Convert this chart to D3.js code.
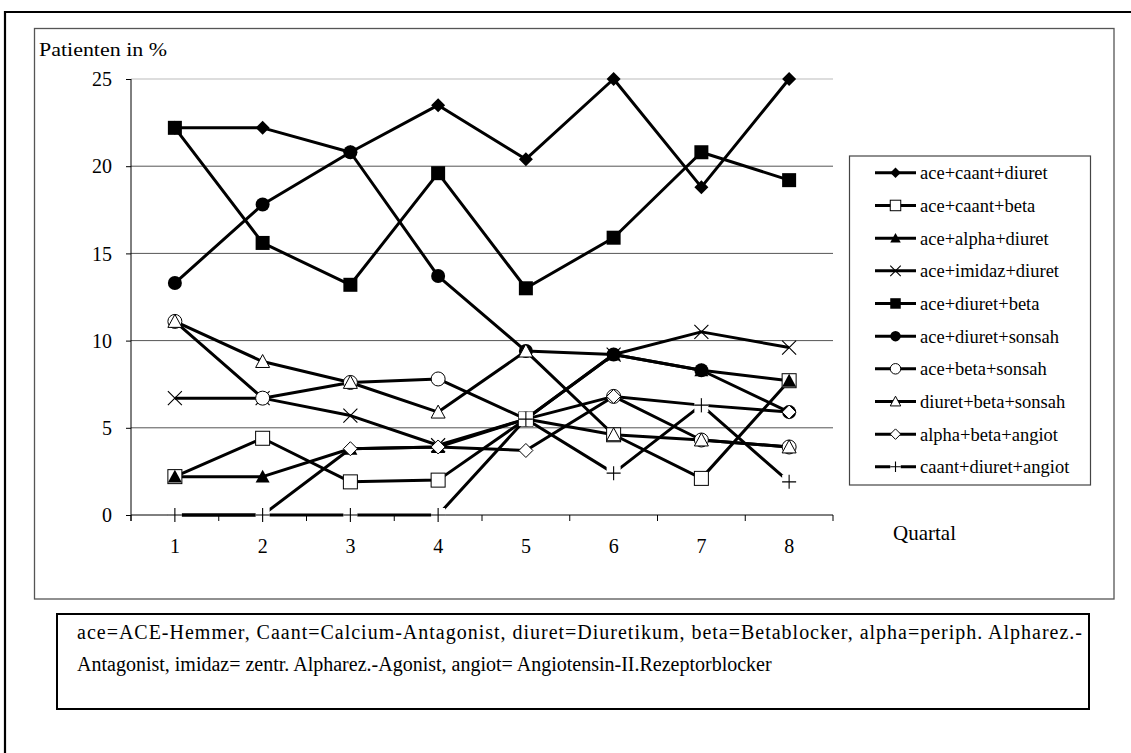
<!DOCTYPE html>
<html>
<head>
<meta charset="utf-8">
<script src="https://cdn.jsdelivr.net/npm/d3@7"></script>
<style>
  html, body { margin: 0; padding: 0; background: #fff; }
  svg { display: block; }
  text { font-family: "Liberation Serif", "Times New Roman", serif; fill: #000; }
</style>
</head>
<body>
<svg id="chart" width="1131" height="753"></svg>
<script>
// ---------- data ----------
const quarters = ["1", "2", "3", "4", "5", "6", "7", "8"];
const yTicks = [0, 5, 10, 15, 20, 25];
const seriesNames = [
  "ace+caant+diuret", "ace+caant+beta", "ace+alpha+diuret", "ace+imidaz+diuret",
  "ace+diuret+beta", "ace+diuret+sonsah", "ace+beta+sonsah", "diuret+beta+sonsah",
  "alpha+beta+angiot", "caant+diuret+angiot"
];
const aceCaantDiuret   = [22.2, 22.2, 20.8, 23.5, 20.4, 25.0, 18.8, 25.0];
const aceCaantBeta     = [2.2, 4.4, 1.9, 2.0, 5.5, 4.6, 2.1, 7.7];
const aceAlphaDiuret   = [2.2, 2.2, 3.8, 3.9, 5.5, 9.2, 8.3, 7.7];
const aceImidazDiuret  = [6.7, 6.7, 5.7, 4.0, 5.5, 9.2, 10.5, 9.6];
const aceDiuretBeta    = [22.2, 15.6, 13.2, 19.6, 13.0, 15.9, 20.8, 19.2];
const aceDiuretSonsah  = [13.3, 17.8, 20.8, 13.7, 9.4, 9.2, 8.3, 5.9];
const aceBetaSonsah    = [11.1, 6.7, 7.6, 7.8, 5.5, 6.8, 4.3, 3.9];
const diuretBetaSonsah = [11.1, 8.8, 7.6, 5.9, 9.4, 4.6, 4.3, 3.9];
const alphaBetaAngiot  = [0, 0, 3.8, 3.9, 3.7, 6.8, 6.3, 5.9];
const caantDiuretAngiot= [0, 0, 0, 0, 5.5, 2.4, 6.3, 1.9];
const markerTypes = ["diamondFilled", "squareOpen", "triangleFilled", "cross", "squareFilled",
                     "circleFilled", "circleOpen", "triangleOpen", "diamondOpen", "plus"];
const yTitle = "Patienten in %";
const xTitle = "Quartal";
const noteLine1 = "ace=ACE-Hemmer,  Caant=Calcium-Antagonist,  diuret=Diuretikum,  beta=Betablocker,  alpha=periph.  Alpharez.-";
const noteLine2 = "Antagonist, imidaz= zentr. Alpharez.-Agonist, angiot= Angiotensin-II.Rezeptorblocker";

const seriesValues = [aceCaantDiuret, aceCaantBeta, aceAlphaDiuret, aceImidazDiuret, aceDiuretBeta,
  aceDiuretSonsah, aceBetaSonsah, diuretBetaSonsah, alphaBetaAngiot, caantDiuretAngiot];
const series = seriesNames.map((n, i) => ({ name: n, values: seriesValues[i], marker: markerTypes[i] }));

// ---------- layout ----------
const svg = d3.select("#chart");
const plot = { left: 131, right: 833, top: 79, bottom: 515 };

// outer frame
svg.append("path").attr("d", "M5,753 L5,12 L1131,12")
  .attr("fill", "none").attr("stroke", "#000").attr("stroke-width", 2.2);
// chart area box
svg.append("rect").attr("x", 34.5).attr("y", 28.5).attr("width", 1079.5).attr("height", 570.5)
  .attr("fill", "#fff").attr("stroke", "#555").attr("stroke-width", 1.3);

const x = d3.scalePoint().domain(quarters).range([plot.left, plot.right]).padding(0.5);
const y = d3.scaleLinear().domain([0, 25]).range([plot.bottom, plot.top]);

// gridlines
svg.append("g").selectAll("line").data(yTicks.filter(d => d > 0)).join("line")
  .attr("x1", plot.left).attr("x2", plot.right)
  .attr("y1", d => y(d)).attr("y2", d => y(d))
  .attr("stroke", d => d === 25 ? "#bbb" : "#555").attr("stroke-width", 1);

// y axis
const yAxis = d3.axisLeft(y).tickValues(yTicks).tickSize(5).tickPadding(14).tickFormat(d3.format("d"));
const gy = svg.append("g").attr("transform", `translate(${plot.left},0)`).call(yAxis);
gy.select(".domain").remove();
gy.selectAll(".tick line").attr("stroke", "#000");
gy.selectAll(".tick text").style("font-size", "20px").attr("dy", "0.33em");
svg.append("line").attr("x1", plot.left).attr("x2", plot.left).attr("y1", plot.top).attr("y2", plot.bottom + 6)
  .attr("stroke", "#000").attr("stroke-width", 1);

// x axis
const xb = d3.scaleLinear().domain([0, quarters.length]).range([plot.left, plot.right]);
svg.append("line").attr("x1", plot.left).attr("x2", plot.right).attr("y1", plot.bottom).attr("y2", plot.bottom)
  .attr("stroke", "#000").attr("stroke-width", 1);
svg.append("g").selectAll("line").data(d3.range(quarters.length + 1)).join("line")
  .attr("x1", d => xb(d)).attr("x2", d => xb(d)).attr("y1", plot.bottom).attr("y2", plot.bottom + 6)
  .attr("stroke", "#000").attr("stroke-width", 1);
svg.append("g").selectAll("text").data(quarters).join("text")
  .attr("x", d => x(d)).attr("y", 553).attr("text-anchor", "middle")
  .style("font-size", "20px").text(d => d);

// titles
svg.append("text").attr("x", 39).attr("y", 56).style("font-size", "18px").attr("textLength", 128)
  .attr("lengthAdjust", "spacingAndGlyphs").text(yTitle);
svg.append("text").attr("x", 893).attr("y", 540).style("font-size", "21px").text(xTitle);

// ---------- series ----------
const line = d3.line().x((d, i) => x(quarters[i])).y(d => y(d));
svg.append("g").selectAll("path").data(series).join("path")
  .attr("d", d => line(d.values))
  .attr("fill", "none").attr("stroke", "#000").attr("stroke-width", 3)
  .attr("stroke-linejoin", "round");

function drawMarker(g, type, s) {
  const h = 7 * s;
  switch (type) {
    case "diamondFilled":
      g.append("path").attr("d", `M0,${-h}L${h},0L0,${h}L${-h},0Z`).attr("fill", "#000"); break;
    case "diamondOpen":
      g.append("path").attr("d", `M0,${-h}L${h},0L0,${h}L${-h},0Z`).attr("fill", "#fff").attr("stroke", "#000").attr("stroke-width", 1); break;
    case "squareOpen":
      g.append("rect").attr("x", -h).attr("y", -h).attr("width", 2 * h).attr("height", 2 * h)
        .attr("fill", "#fff").attr("stroke", "#000").attr("stroke-width", 1); break;
    case "squareFilled":
      g.append("rect").attr("x", -h).attr("y", -h).attr("width", 2 * h).attr("height", 2 * h).attr("fill", "#000"); break;
    case "triangleFilled":
      g.append("path").attr("d", `M0,${-h}L${h},${h * 0.85}L${-h},${h * 0.85}Z`).attr("fill", "#000"); break;
    case "triangleOpen":
      g.append("path").attr("d", `M0,${-h}L${h},${h * 0.85}L${-h},${h * 0.85}Z`).attr("fill", "#fff").attr("stroke", "#000").attr("stroke-width", 1); break;
    case "circleFilled":
      g.append("circle").attr("r", h).attr("fill", "#000"); break;
    case "circleOpen":
      g.append("circle").attr("r", h).attr("fill", "#fff").attr("stroke", "#000").attr("stroke-width", 1); break;
    case "cross":
      g.append("path").attr("d", `M${-h},${-h}L${h},${h}M${-h},${h}L${h},${-h}`).attr("stroke", "#000").attr("stroke-width", 1.1); break;
    case "plus":
      g.append("rect").attr("x", -h).attr("y", -h).attr("width", 2 * h).attr("height", 2 * h).attr("fill", "#fff");
      g.append("path").attr("d", `M${-h},0L${h},0M0,${-h}L0,${h}`).attr("stroke", "#000").attr("stroke-width", 1.1); break;
  }
}

const mg = svg.append("g");
series.forEach(s => {
  s.values.forEach((v, i) => {
    const g = mg.append("g").attr("transform", `translate(${x(quarters[i])},${y(v)})`);
    drawMarker(g, s.marker, 1);
  });
});

// ---------- legend ----------
const legend = svg.append("g");
legend.append("rect").attr("x", 849.5).attr("y", 156).attr("width", 241).attr("height", 329)
  .attr("fill", "#fff").attr("stroke", "#444").attr("stroke-width", 1.2);
const ly = d3.scalePoint().domain(seriesNames).range([179.3, 473.3]);
series.forEach(s => {
  const base = ly(s.name);
  const cy = base - 6.5;
  const g = legend.append("g");
  g.append("line").attr("x1", 875).attr("x2", 916).attr("y1", cy).attr("y2", cy)
    .attr("stroke", "#000").attr("stroke-width", 3);
  const mk = g.append("g").attr("transform", `translate(895.5,${cy})`);
  drawMarker(mk, s.marker, 0.75);
  g.append("text").attr("x", 920).attr("y", base).style("font-size", "18.5px").text(s.name);
});

// ---------- footnote ----------
svg.append("rect").attr("x", 57).attr("y", 614).attr("width", 1032).attr("height", 95)
  .attr("fill", "#fff").attr("stroke", "#000").attr("stroke-width", 2);
svg.append("text").attr("x", 77).attr("y", 639).style("font-size", "20px")
  .attr("textLength", 1005).attr("lengthAdjust", "spacing").text(noteLine1);
svg.append("text").attr("x", 77).attr("y", 671).style("font-size", "20px").text(noteLine2);
</script>
</body>
</html>
